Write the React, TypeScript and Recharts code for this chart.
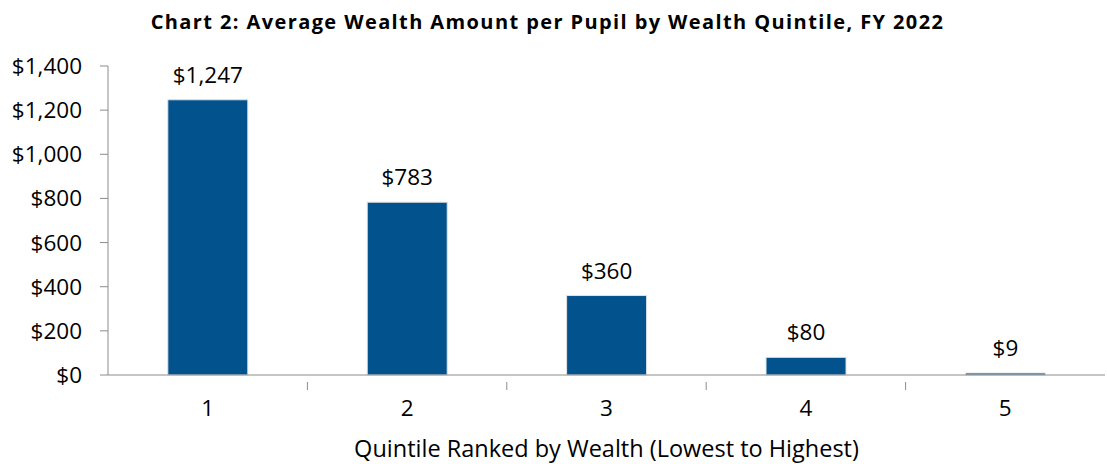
import React from "react";
import { BarChart, Bar, XAxis, YAxis, LabelList } from "recharts";

const quintiles = ["1", "2", "3", "4", "5"];
const amounts = [1247, 783, 360, 80, 9];
const yTicks = [0, 200, 400, 600, 800, 1000, 1200, 1400];

const data = quintiles.map((q, i) => ({ q, v: amounts[i] }));

const FONT = "'Open Sans', sans-serif";
const FS = 22.5;
const fmt = (v: number) => "$" + Number(v).toLocaleString("en-US");

const XTick = (props: any) => {
  const { x, y, payload, index } = props;
  const off = payload && payload.offset ? payload.offset : 99.7;
  return (
    <g>
      {index > 0 && (
        <line x1={x - off} x2={x - off} y1={y - 1} y2={y + 7} stroke="#8c8c8c" strokeWidth={1} />
      )}
      <text x={x} y={y + 33} textAnchor="middle" fontFamily={FONT} fontSize={FS} fill="#000">
        {payload.value}
      </text>
    </g>
  );
};

export default function App() {
  return (
    <div style={{ position: "absolute", left: 0, top: 0, width: 1107, height: 464, background: "#fff" }}>
      <div
        style={{
          position: "absolute",
          left: 0,
          width: 1095,
          top: 8,
          textAlign: "center",
          fontFamily: FONT,
          fontWeight: 700,
          fontSize: 20,
          letterSpacing: 1.4,
          color: "#000",
          lineHeight: "28px",
          whiteSpace: "nowrap",
        }}
      >
        Chart 2: Average Wealth Amount per Pupil by Wealth Quintile, FY 2022
      </div>
      <BarChart
        width={1107}
        height={464}
        data={data}
        margin={{ top: 66, right: 2, left: 0, bottom: 0 }}
        barCategoryGap="30%"
      >
        <YAxis
          width={108}
          domain={[0, 1400]}
          ticks={yTicks}
          tickFormatter={fmt}
          axisLine={{ stroke: "#8c8c8c" }}
          tickLine={{ stroke: "#8c8c8c" }}
          tickSize={8}
          tickMargin={18}
          tick={{ fontFamily: FONT, fontSize: FS, fill: "#000" }}
          interval={0}
        />
        <XAxis
          dataKey="q"
          height={89}
          axisLine={{ stroke: "#8c8c8c" }}
          tickLine={false}
          tick={<XTick />}
          interval={0}
          label={{
            value: "Quintile Ranked by Wealth (Lowest to Highest)",
            position: "insideBottom",
            offset: 7,
            fontFamily: FONT,
            fontSize: 23.5,
            fill: "#000",
          }}
        />
        <Bar dataKey="v" fill="#02528E" stroke="#e3e3e3" strokeWidth={1} isAnimationActive={false}>
          <LabelList
            dataKey="v"
            position="top"
            offset={17}
            formatter={fmt}
            style={{ fontFamily: FONT, fontSize: FS, fill: "#000" }}
          />
        </Bar>
      </BarChart>
    </div>
  );
}
